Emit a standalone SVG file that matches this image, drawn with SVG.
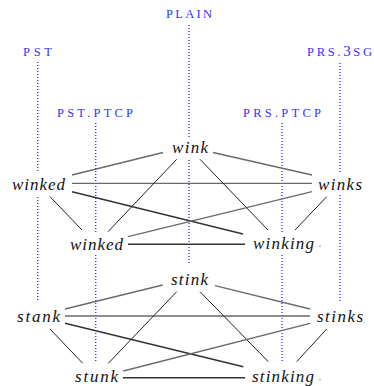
<svg xmlns="http://www.w3.org/2000/svg" width="374" height="386" viewBox="0 0 374 386">
  <style>
    .gloss { font-family: "Liberation Serif", "DejaVu Serif", serif; font-size: 12.5px; fill: #3333ff; }
    .big { font-size: 15px; }
    .guide { stroke: #3333ff; stroke-width: 1.4; stroke-dasharray: 1.1 1.9; fill: none; }
    .word { font-family: "Liberation Serif", "DejaVu Serif", serif; font-style: italic; font-size: 17px; fill: #111; }
    .bg { fill: #fff; }
    .e1 { stroke: #6a6a6a; stroke-width: 1.3; fill: none; }
    .e2 { stroke: #222; stroke-width: 1; fill: none; }
    .e3 { stroke: #333; stroke-width: 1.4; fill: none; }
    .dot { fill: #777; }
  </style>

  <!-- gloss labels -->
  <g id="g-plain"><text class="gloss" x="166" y="18" textLength="46">PLAIN</text></g>
  <g id="g-pst"><text class="gloss" x="23" y="56" textLength="29">PST</text></g>
  <g id="g-prs3sg"><text class="gloss" x="307" y="56" textLength="65">PRS.<tspan class="big">3</tspan>SG</text></g>
  <g id="g-pstptcp"><text class="gloss" x="57" y="117" textLength="76">PST.PTCP</text></g>
  <g id="g-prsptcp"><text class="gloss" x="243" y="117" textLength="78">PRS.PTCP</text></g>

  <!-- dotted guide lines -->
  <g id="guides">
    <line class="guide" x1="189" y1="25" x2="189" y2="265"/>
    <line class="guide" x1="37.7" y1="62" x2="37.7" y2="302"/>
    <line class="guide" x1="340" y1="63" x2="340" y2="302"/>
    <line class="guide" x1="95.7" y1="123" x2="95.7" y2="363"/>
    <line class="guide" x1="282" y1="123" x2="282" y2="361"/>
  </g>

  <!-- connectors -->
  <g id="connectors">
    <!-- wink paradigm -->
    <line class="e1" x1="72" y1="175" x2="163" y2="152.5"/>
    <line class="e1" x1="213" y1="152.5" x2="312" y2="175"/>
    <line class="e1" x1="72" y1="183.3" x2="312" y2="183.3"/>
    <line class="e2" x1="50" y1="196.7" x2="82" y2="230"/>
    <line class="e3" x1="72" y1="191.7" x2="243" y2="234"/>
    <line class="e2" x1="176.7" y1="159.3" x2="108" y2="231.7"/>
    <line class="e2" x1="200" y1="159.3" x2="268" y2="230"/>
    <line class="e1" x1="312" y1="191.7" x2="128" y2="236.7"/>
    <line class="e2" x1="326.7" y1="196.7" x2="295" y2="230"/>
    <line class="e3" x1="128" y1="244.3" x2="245" y2="244.3"/>
    <!-- stink paradigm -->
    <line class="e1" x1="65" y1="309" x2="162.7" y2="285"/>
    <line class="e1" x1="215" y1="285.7" x2="310" y2="309"/>
    <line class="e1" x1="65" y1="316" x2="310" y2="316"/>
    <line class="e2" x1="50" y1="329" x2="82.7" y2="363.3"/>
    <line class="e3" x1="65" y1="323.3" x2="243.3" y2="366.7"/>
    <line class="e2" x1="176.7" y1="291.7" x2="108.3" y2="363.3"/>
    <line class="e2" x1="200" y1="291.7" x2="268.3" y2="361.7"/>
    <line class="e1" x1="310" y1="323.3" x2="123.3" y2="371"/>
    <line class="e2" x1="326.7" y1="329" x2="296.7" y2="361.7"/>
    <line class="e3" x1="123" y1="377.7" x2="245" y2="377.7"/>
  </g>

  <!-- word-form nodes -->
  <g id="n-wink"><rect class="bg" x="168" y="138" width="44" height="20"/><text class="word" x="172" y="153" textLength="36">wink</text></g>
  <g id="n-winked-pst"><rect class="bg" x="8" y="172" width="61" height="23"/><text class="word" x="12" y="190" textLength="53">winked</text></g>
  <g id="n-winks"><rect class="bg" x="314" y="172" width="52" height="23"/><text class="word" x="318" y="190" textLength="44">winks</text></g>
  <g id="n-winked-ptcp"><rect class="bg" x="66" y="233" width="61" height="22"/><text class="word" x="70" y="249.5" textLength="53">winked</text></g>
  <g id="n-winking"><rect class="bg" x="249" y="233" width="69" height="22"/><text class="word" x="253" y="249" textLength="61">winking</text><circle class="dot" cx="320" cy="246" r="0.7"/></g>

  <g id="n-stink"><rect class="bg" x="167" y="270" width="45" height="20"/><text class="word" x="171" y="285" textLength="37">stink</text></g>
  <g id="n-stank"><rect class="bg" x="13" y="305" width="51" height="22"/><text class="word" x="17" y="322" textLength="43">stank</text></g>
  <g id="n-stinks"><rect class="bg" x="313" y="305" width="54" height="22"/><text class="word" x="317" y="322" textLength="46">stinks</text></g>
  <g id="n-stunk"><rect class="bg" x="71" y="365" width="51" height="21"/><text class="word" x="75" y="382" textLength="43">stunk</text></g>
  <g id="n-stinking"><rect class="bg" x="248" y="365" width="70" height="21"/><text class="word" x="252" y="381.5" textLength="62">stinking</text><circle class="dot" cx="320" cy="379.5" r="0.7"/></g>
</svg>
